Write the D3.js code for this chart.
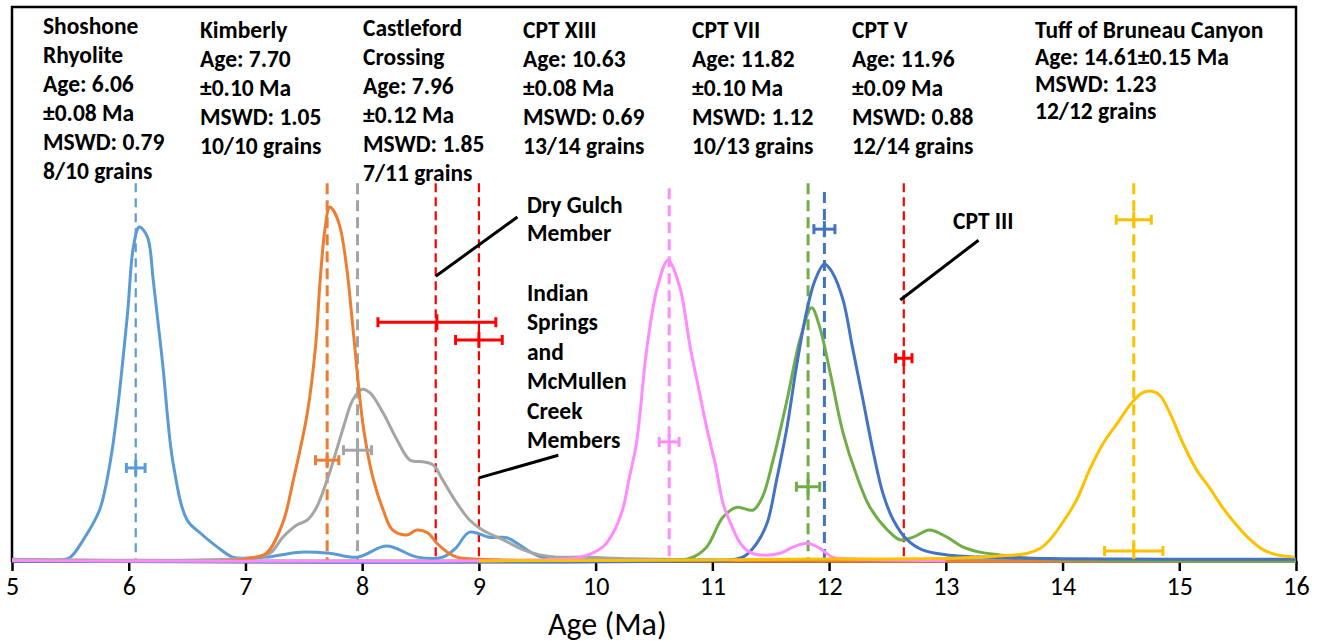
<!DOCTYPE html>
<html>
<head>
<meta charset="utf-8">
<script src="https://d3js.org/d3.v7.min.js"></script>
<style>
  body { margin: 0; background: #fff; }
  text { font-family: Carlito, Calibri, Lato, sans-serif; }
</style>
</head>
<body>
<div id="chart"></div>
<script>

// x ticks
var xTicks = [5, 6, 7, 8, 9, 10, 11, 12, 13, 14, 15, 16];

// probability curves, [age (Ma), relative probability]
var shoshone = [[5.0,0.2],[5.41,0.2],[5.5,0.7],[5.61,3.8],[5.75,9.2],[5.84,17.7],[5.9,26.7],[5.99,44.8],[6.04,56.7],[6.09,60.3],[6.16,58.5],[6.21,50.7],[6.29,35.7],[6.38,17.7],[6.5,7.4],[6.61,5.1],[6.76,2.5],[6.89,0.7],[7.01,0.5],[7.18,0.7],[7.47,1.6],[7.72,1.4],[7.96,0.7],[8.21,2.7],[8.47,0.7],[8.69,0.7],[8.8,2.3],[8.92,5.2],[9.09,4.3],[9.24,4.2],[9.35,2.9],[9.46,1.4],[9.59,0.4],[10.04,0.2],[16.0,0.1]];
var kimberly = [[5.0,0.1],[6.9,0.1],[7.03,0.5],[7.18,1.4],[7.32,6.9],[7.41,14.6],[7.53,26.7],[7.6,38.6],[7.64,50.7],[7.68,59.7],[7.72,63.9],[7.75,63.4],[7.81,60.3],[7.87,52.5],[7.92,42.2],[8.01,24.2],[8.09,15.2],[8.18,9.2],[8.26,5.6],[8.38,4.7],[8.47,5.6],[8.56,5.1],[8.64,3.2],[8.73,1.6],[8.81,0.7],[8.92,0.4],[9.5,0.1],[16.0,0.0]];
var castleford = [[5.0,0.3],[7.0,0.5],[7.21,1.4],[7.32,4.3],[7.44,6.5],[7.53,7.4],[7.61,9.7],[7.72,15.9],[7.84,24.2],[7.92,29.1],[8.0,31.0],[8.07,30.3],[8.18,26.7],[8.3,21.8],[8.41,18.2],[8.52,17.9],[8.61,17.3],[8.69,14.6],[8.81,10.5],[8.92,7.4],[9.03,5.6],[9.21,3.8],[9.38,2.0],[9.52,1.1],[9.67,0.7],[9.89,0.7],[10.3,0.4],[11.0,0.2],[16.0,0.0]];
var cptXIII = [[5.0,0.1],[9.5,0.2],[9.87,0.7],[10.06,2.5],[10.15,5.1],[10.23,9.2],[10.29,15.2],[10.35,21.3],[10.44,38.6],[10.53,49.5],[10.62,54.3],[10.72,49.5],[10.81,38.6],[10.88,31.4],[10.95,24.2],[11.03,17.0],[11.09,10.5],[11.17,6.1],[11.24,3.2],[11.32,1.6],[11.41,1.1],[11.58,1.4],[11.69,2.5],[11.81,3.2],[11.92,2.3],[12.03,0.7],[12.15,0.4],[13.0,0.1]];
var cptVII = [[5.0,0.0],[10.5,0.1],[10.81,0.5],[10.95,2.5],[11.09,7.9],[11.21,9.7],[11.35,9.2],[11.43,11.6],[11.52,18.2],[11.64,29.1],[11.75,39.9],[11.85,45.7],[11.92,42.2],[12.01,33.9],[12.12,23.1],[12.24,15.2],[12.35,9.7],[12.5,5.6],[12.61,3.8],[12.72,4.3],[12.86,5.6],[13.01,4.3],[13.15,2.5],[13.29,1.6],[13.46,1.1],[13.72,0.5],[14.5,0.1],[16.0,0.0]];
var cptV = [[5.0,0.0],[10.8,0.1],[11.26,0.7],[11.38,3.2],[11.47,6.9],[11.55,14.6],[11.64,24.2],[11.72,35.0],[11.81,45.3],[11.88,50.7],[11.96,53.6],[12.03,52.0],[12.12,47.1],[12.2,38.6],[12.29,29.1],[12.38,19.5],[12.46,12.3],[12.55,7.4],[12.67,3.8],[12.8,2.0],[13.01,1.1],[13.29,0.7],[14.0,0.4],[16.0,0.3]];
var bruneau = [[9.0,0.0],[11.0,0.2],[12.0,0.35],[13.04,0.5],[13.46,0.9],[13.7,1.4],[13.81,2.3],[13.89,3.8],[14.0,6.9],[14.12,11.0],[14.23,16.4],[14.35,21.3],[14.47,24.9],[14.59,28.5],[14.68,30.3],[14.75,30.7],[14.83,30.0],[14.92,26.7],[15.03,21.3],[15.15,16.4],[15.26,13.2],[15.37,9.7],[15.49,6.5],[15.61,3.8],[15.72,2.0],[15.84,1.1],[15.99,0.7]];

// weighted mean ages: [colour, age, error, height of error bar]
var meanAges = [
  ["#5B9BD5", 6.06, 0.08, 16.8],
  ["#ED7D31", 7.70, 0.10, 18.2],
  ["#A5A5A5", 7.96, 0.12, 20.0],
  ["#FF0000", 8.64, 0.505, 43.1],
  ["#FF0000", 9.00, 0.20, 39.9],
  ["#FF8BFF", 10.63, 0.085, 21.5],
  ["#70AD47", 11.82, 0.10, 13.4],
  ["#4472C4", 11.96, 0.09, 59.9],
  ["#FF0000", 12.64, 0.07, 36.6],
  ["#FFC000", 14.61, 0.15, 61.6],
  ["#FFC000", 14.61, 0.25, 1.8]
];

// dashed age lines: [colour, age, top, width, dash]
var ageLines = [
  ["#5B9BD5", 6.06, 68.2, 2.2, "9,6"],
  ["#ED7D31", 7.70, 68.2, 3, "11,6"],
  ["#A5A5A5", 7.96, 68.2, 3, "11,6"],
  ["#FF0000", 8.63, 68.2, 2.2, "9,5"],
  ["#FF0000", 9.00, 68.2, 2.2, "9,5"],
  ["#FF8BFF", 10.63, 67.3, 3, "11,6"],
  ["#70AD47", 11.82, 68.2, 3, "11,6"],
  ["#4472C4", 11.96, 66.6, 3, "11,6"],
  ["#FF0000", 12.64, 68.2, 2.2, "9,5"],
  ["#FFC000", 14.61, 68.2, 3, "11,6"]
];

// leader lines: [x1, y1, x2, y2]
var leaders = [
  [8.63, 51.4, 9.33, 62.1],
  [9.00, 15.0, 9.68, 19.1],
  [12.61, 47.1, 13.28, 57.9]
];

// sample labels: [left px, first baseline px, line step, lines]
var sampleLabels = [
  [43, 33.5, 29, ["Shoshone", "Rhyolite", "Age: 6.06", "\u00b10.08 Ma", "MSWD: 0.79", "8/10 grains"]],
  [200, 37.5, 29, ["Kimberly", "Age: 7.70", "\u00b10.10 Ma", "MSWD: 1.05", "10/10 grains"]],
  [363, 35.5, 29, ["Castleford", "Crossing", "Age: 7.96", "\u00b10.12 Ma", "MSWD: 1.85", "7/11 grains"]],
  [523, 37.5, 29, ["CPT XIII", "Age: 10.63", "\u00b10.08 Ma", "MSWD: 0.69", "13/14 grains"]],
  [692, 38, 29, ["CPT VII", "Age: 11.82", "\u00b10.10 Ma", "MSWD: 1.12", "10/13 grains"]],
  [852, 37.5, 29, ["CPT V", "Age: 11.96", "\u00b10.09 Ma", "MSWD: 0.88", "12/14 grains"]],
  [1035, 38, 27, ["Tuff of Bruneau Canyon", "Age: 14.61\u00b10.15 Ma", "MSWD: 1.23", "12/12 grains"]]
];
var dryGulch = ["Dry Gulch", "Member"];
var indianSprings = ["Indian", "Springs", "and", "McMullen", "Creek", "Members"];

var W = 1322, H = 644;
var margin = {top: 7, right: 26, bottom: 83, left: 12},
    width = W - margin.left - margin.right,
    height = H - margin.top - margin.bottom;

var svg = d3.select("#chart")
  .append("svg")
    .attr("width", W)
    .attr("height", H)
  .append("g")
    .attr("transform", "translate(" + margin.left + "," + margin.top + ")");

var x = d3.scaleLinear().domain([5, 16]).range([0, width]);
var y = d3.scaleLinear().domain([0, 100]).range([height, height - 554]);

// frame
svg.append("rect")
  .attr("x", 0).attr("y", 0)
  .attr("width", width).attr("height", height)
  .style("fill", "none")
  .style("stroke", "#000")
  .style("stroke-width", 2.5);

// x axis
var xAxis = svg.append("g")
  .attr("transform", "translate(0," + height + ")")
  .call(d3.axisBottom(x).tickValues(xTicks).tickSize(10).tickPadding(6).tickSizeOuter(0));
xAxis.select(".domain").style("stroke", "#000").style("stroke-width", 2);
xAxis.selectAll(".tick line").style("stroke", "#000").style("stroke-width", 2.5);
xAxis.selectAll(".tick text").style("font-size", "26px").style("font-family", "Carlito, Calibri, Lato, sans-serif").attr("fill", "#000");

svg.append("text")
  .attr("x", x(10.1))
  .attr("y", height + 74)
  .style("text-anchor", "middle")
  .style("font-size", "32px")
  .text("Age (Ma)");

// dashed age lines
svg.append("g").selectAll("line")
  .data(ageLines)
  .enter().append("line")
    .attr("x1", function(d) { return x(d[1]); })
    .attr("x2", function(d) { return x(d[1]); })
    .attr("y1", function(d) { return y(d[2]); })
    .attr("y2", y(0))
    .style("stroke", function(d) { return d[0]; })
    .style("stroke-width", function(d) { return d[3]; })
    .style("stroke-dasharray", function(d) { return d[4]; });

// curves
var line = d3.line()
  .x(function(d) { return x(d[0]); })
  .y(function(d) { return y(d[1]); })
  .curve(d3.curveCatmullRom.alpha(0.5));

var curves = [
  [shoshone, "#5B9BD5"],
  [castleford, "#A5A5A5"],
  [kimberly, "#ED7D31"],
  [cptVII, "#70AD47"],
  [cptV, "#4472C4"],
  [cptXIII, "#FF8BFF"],
  [bruneau, "#FFC000"]
];
svg.append("g").selectAll("path")
  .data(curves)
  .enter().append("path")
    .attr("d", function(d) { return line(d[0]); })
    .style("fill", "none")
    .style("stroke", function(d) { return d[1]; })
    .style("stroke-width", 3);

// error bars
var bars = svg.append("g").selectAll("g")
  .data(meanAges)
  .enter().append("g")
    .style("stroke", function(d) { return d[0]; })
    .style("stroke-width", 3);
bars.append("line")
  .attr("x1", function(d) { return x(d[1] - d[2]); })
  .attr("x2", function(d) { return x(d[1] + d[2]); })
  .attr("y1", function(d) { return y(d[3]); })
  .attr("y2", function(d) { return y(d[3]); });
bars.append("line")
  .attr("x1", function(d) { return x(d[1] - d[2]); })
  .attr("x2", function(d) { return x(d[1] - d[2]); })
  .attr("y1", function(d) { return y(d[3]) - 5; })
  .attr("y2", function(d) { return y(d[3]) + 5; });
bars.append("line")
  .attr("x1", function(d) { return x(d[1] + d[2]); })
  .attr("x2", function(d) { return x(d[1] + d[2]); })
  .attr("y1", function(d) { return y(d[3]) - 5; })
  .attr("y2", function(d) { return y(d[3]) + 5; });
bars.append("line")
  .attr("x1", function(d) { return x(d[1]); })
  .attr("x2", function(d) { return x(d[1]); })
  .attr("y1", function(d) { return y(d[3]) - 8; })
  .attr("y2", function(d) { return y(d[3]) + 8; });

// leader lines
svg.append("g").selectAll("line")
  .data(leaders)
  .enter().append("line")
    .attr("x1", function(d) { return x(d[0]); })
    .attr("y1", function(d) { return y(d[1]); })
    .attr("x2", function(d) { return x(d[2]); })
    .attr("y2", function(d) { return y(d[3]); })
    .style("stroke", "#000")
    .style("stroke-width", 3);

// labels
function block(px, py, lines, step) {
  var t = svg.append("text")
    .attr("x", px - margin.left)
    .attr("y", py - margin.top)
    .style("font-size", "23.5px")
    .style("font-weight", "bold")
    .attr("fill", "#000");
  lines.forEach(function(s, i) {
    t.append("tspan").attr("x", px - margin.left).attr("dy", i == 0 ? 0 : step).text(s);
  });
}
sampleLabels.forEach(function(d) { block(d[0], d[1], d[3], d[2]); });
block(527, 213, dryGulch, 28);
block(527, 301, indianSprings, 29.4);
block(953, 229, ["CPT III"], 28);

</script>
</body>
</html>
